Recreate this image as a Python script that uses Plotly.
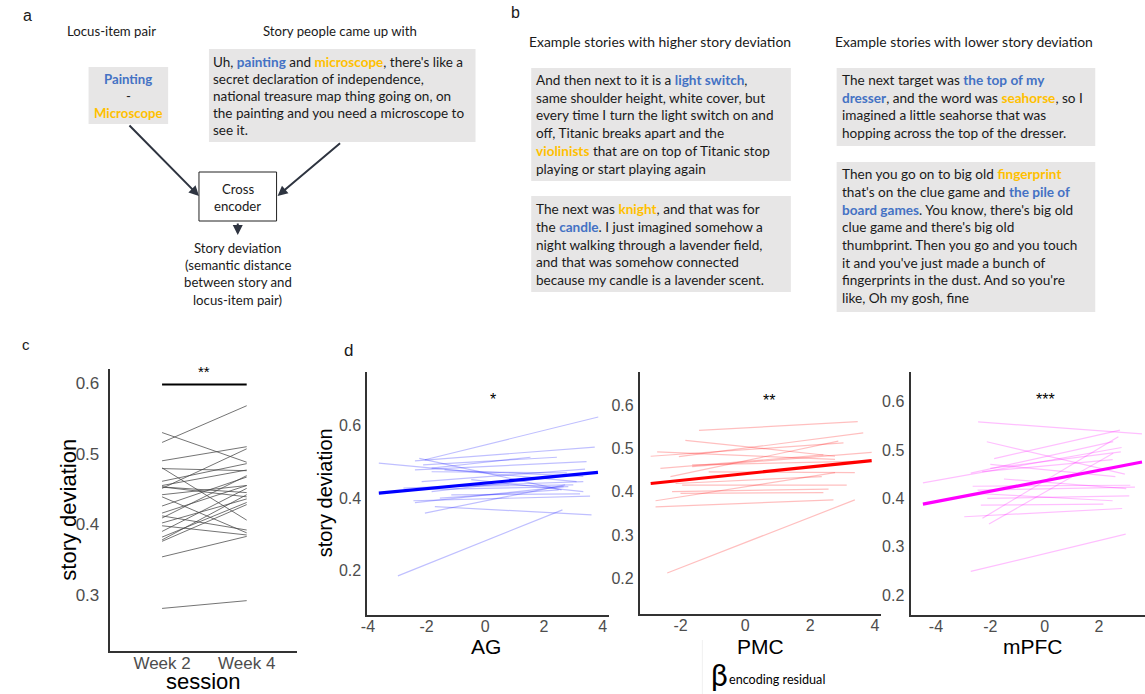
import plotly.graph_objects as go

W, H = 1145, 694


def px(x):
    return x / W


def py(y):
    return 1 - y / H


# ---------------- data ----------------
SESSIONS = ["Week 2", "Week 4"]
WEEK2 = [0.516, 0.530, 0.490, 0.480, 0.479, 0.451, 0.461, 0.455, 0.453, 0.439,
         0.426, 0.416, 0.412, 0.409, 0.402, 0.398, 0.390, 0.382, 0.378, 0.376,
         0.354, 0.281, 0.453, 0.442]
WEEK4 = [0.568, 0.488, 0.510, 0.406, 0.476, 0.507, 0.486, 0.477, 0.445, 0.388,
         0.467, 0.455, 0.392, 0.469, 0.436, 0.385, 0.451, 0.431, 0.442, 0.428,
         0.383, 0.292, 0.439, 0.455]

AG_X0 = [-2.98, -2.06, -2.40, -3.63, -2.25, -2.40, -1.83, -2.17, -2.12, -2.45, -2.40,
         -2.06, -1.72, -2.79, -1.83, -0.48, -1.27, -2.62, -1.55, -1.16, -1.83, -1.39]
AG_Y0 = [0.186, 0.506, 0.503, 0.497, 0.510, 0.478, 0.483, 0.446, 0.492, 0.393, 0.388,
         0.359, 0.377, 0.428, 0.418, 0.451, 0.432, 0.423, 0.400, 0.409, 0.473, 0.478]
AG_X1 = [2.63, 3.85, 3.73, 3.11, 2.60, 3.45, 1.54, 3.40, 2.44, 3.57, 2.67,
         2.72, 3.62, 3.34, 2.60, 3.34, 3.00, 2.83, 2.50, 3.23, 2.78, 3.34]
AG_Y1 = [0.368, 0.624, 0.541, 0.446, 0.423, 0.501, 0.513, 0.480, 0.513, 0.406, 0.432,
         0.437, 0.354, 0.446, 0.460, 0.418, 0.437, 0.432, 0.423, 0.412, 0.470, 0.460]
AG_FIT = ([-3.63, 3.84], [0.414, 0.471])

PMC_X0 = [-2.41, -1.43, -1.85, -2.72, -2.92, -2.05, -2.62, -1.64, -2.31, -2.15, -1.95,
          -2.26, -2.00, -2.77, -2.77, -1.13, -1.64]
PMC_Y0 = [0.212, 0.542, 0.519, 0.492, 0.482, 0.481, 0.454, 0.458, 0.435, 0.419, 0.415,
          0.400, 0.396, 0.379, 0.365, 0.446, 0.462]
PMC_X1 = [3.38, 3.47, 2.77, 2.77, 3.03, 3.64, 2.41, 3.90, 2.87, 2.36, 3.13,
          2.57, 2.41, 2.77, 2.72, 3.38, 3.38]
PMC_Y1 = [0.381, 0.562, 0.482, 0.475, 0.513, 0.536, 0.485, 0.491, 0.517, 0.435, 0.415,
          0.406, 0.398, 0.444, 0.381, 0.444, 0.470]
PMC_FIT = ([-2.92, 3.90], [0.419, 0.472])

MPFC_X0 = [-2.72, -2.45, -2.13, -4.48, -1.86, -2.72, -2.29, -2.05, -2.96, -2.35, -2.11,
           -2.47, -2.65, -2.00, -2.30, -1.50, -2.00, -2.50]
MPFC_Y0 = [0.249, 0.558, 0.517, 0.432, 0.482, 0.452, 0.359, 0.347, 0.362, 0.386, 0.400,
           0.417, 0.425, 0.462, 0.455, 0.440, 0.470, 0.410]
MPFC_X1 = [2.98, 3.58, 2.95, 2.83, 2.77, 2.52, 2.71, 2.52, 2.85, 2.16, 3.11,
           3.32, 3.15, 2.80, 2.50, 3.00, 2.60, 2.50]
MPFC_Y1 = [0.326, 0.533, 0.450, 0.505, 0.541, 0.517, 0.527, 0.493, 0.379, 0.388, 0.405,
           0.423, 0.427, 0.496, 0.480, 0.420, 0.445, 0.395]
MPFC_FIT = ([-4.48, 3.58], [0.388, 0.475])

REGIONS = ["AG", "PMC", "mPFC"]
STARS = ["*", "**", "***"]

# ---------------- text content ----------------
PAIR_LINES = [[("Painting", "blue")], [("-", None)], [("Microscope", "gold")]]
STORY_A = [
    [("Uh, ", None), ("painting", "blue"), (" and ", None), ("microscope", "gold"), (", there's like a", None)],
    [("secret declaration of independence,", None)],
    [("national treasure map thing going on, on", None)],
    [("the painting and you need a microscope to", None)],
    [("see it.", None)],
]
STORY_HIGH_1 = [
    [("And then next to it is a ", None), ("light switch", "blue"), (",", None)],
    [("same shoulder height, white cover, but", None)],
    [("every time I turn the light switch on and", None)],
    [("off, Titanic breaks apart and the", None)],
    [("violinists", "gold"), (" that are on top of Titanic stop", None)],
    [("playing or start playing again", None)],
]
STORY_HIGH_2 = [
    [("The next was ", None), ("knight", "gold"), (", and that was for", None)],
    [("the ", None), ("candle", "blue"), (". I just imagined somehow a", None)],
    [("night walking through a lavender field,", None)],
    [("and that was somehow connected", None)],
    [("because my candle is a lavender scent.", None)],
]
STORY_LOW_1 = [
    [("The next target was ", None), ("the top of my", "blue")],
    [("dresser", "blue"), (", and the word was ", None), ("seahorse", "gold"), (", so I", None)],
    [("imagined a little seahorse that was", None)],
    [("hopping across the top of the dresser.", None)],
]
STORY_LOW_2 = [
    [("Then you go on to big old ", None), ("fingerprint", "gold")],
    [("that's on the clue game and ", None), ("the pile of", "blue")],
    [("board games", "blue"), (". You know, there's big old", None)],
    [("clue game and there's big old", None)],
    [("thumbprint. Then you go and you touch", None)],
    [("it and you've just made a bunch of", None)],
    [("fingerprints in the dust. And so you're", None)],
    [("like, Oh my gosh, fine", None)],
]

COL = {"blue": "#4472C4", "gold": "#FFC000"}
TXT = "#1a1a1a"
TFONT = "Lato"
PLOTFONT = "Liberation Sans"
TICKCOL = "#4d4d4d"
BOXFILL = "#e7e6e6"


def rich(segs):
    out = ""
    for s, c in segs:
        if c is None:
            out += s
        else:
            out += "<b><span style='color:%s'>%s</span></b>" % (COL[c], s)
    return out


fig = go.Figure()
annotations = []
shapes = []


def label(x, y, text, size=13.2, anchor="left", color=TXT, family=TFONT, angle=0, vanchor="middle"):
    annotations.append(dict(x=px(x), y=py(y), xref="paper", yref="paper", text=text,
                            showarrow=False, xanchor=anchor, yanchor=vanchor, textangle=angle,
                            font=dict(family=family, size=size, color=color)))


def box(x0, y0, x1, y1, fill=BOXFILL, line=None):
    shapes.append(dict(type="rect", xref="paper", yref="paper", x0=px(x0), x1=px(x1),
                       y0=py(y1), y1=py(y0), fillcolor=fill, layer="below",
                       line=dict(width=0 if line is None else 1, color=line or fill)))


# ---------------- panel a ----------------
label(15, 15, "a", size=16, family="Liberation Sans")
label(106, 31, "Locus-item pair", size=13.2, anchor="center")
label(336, 31, "Story people came up with", size=13.2, anchor="center")
box(83, 67, 163, 124)
for i, ln in enumerate(PAIR_LINES):
    label(123, [79, 96, 113][i], rich(ln), size=13.2, anchor="center")
box(204, 49, 472, 142)
for i, ln in enumerate(STORY_A):
    label(206, 62 + i * 17.1, rich(ln), size=13.5)
box(194, 172, 272, 221, fill="white", line="#222222")
label(233, 189, "Cross", size=13.2, anchor="center")
label(233, 206, "encoder", size=13.2, anchor="center")
for i, t in enumerate(["Story deviation", "(semantic distance", "between story and", "locus-item pair)"]):
    label(233, 248 + i * 17.2, t, size=13.2, anchor="center")
for hx, hy, tx, ty in [(194, 196, 123, 124), (273, 196, 337, 142), (233, 235, 233, 222)]:
    annotations.append(dict(x=px(hx), y=py(hy), xref="paper", yref="paper", text="",
                            showarrow=True, ax=tx - hx, ay=ty - hy, arrowhead=2, arrowsize=1,
                            arrowwidth=2, arrowcolor="#2e3440"))

# ---------------- panel b ----------------
label(506, 13, "b", size=16, family="Liberation Sans")
label(657, 41, "Example stories with higher story deviation", size=13.9, anchor="center")
label(963, 41, "Example stories with lower story deviation", size=13.9, anchor="center")
for (x0, y0, x1, y1, first, lines) in [
    (528, 68, 789, 181, 80, STORY_HIGH_1),
    (528, 196, 789, 292, 209, STORY_HIGH_2),
    (835, 68, 1095, 146, 80, STORY_LOW_1),
    (835, 162, 1095, 312, 174, STORY_LOW_2),
]:
    box(x0, y0, x1, y1)
    for i, ln in enumerate(lines):
        label(x0 + 3, first + i * 17.75, rich(ln), size=13.6)

# ---------------- panel c ----------------
label(14, 345, "c", size=15, family="Liberation Sans")
xs, ys = [], []
for a, b in zip(WEEK2, WEEK4):
    xs += [0, 1, None]
    ys += [a, b, None]
fig.add_trace(go.Scatter(x=xs, y=ys, mode="lines", xaxis="x", yaxis="y", hoverinfo="skip",
                         line=dict(color="rgba(70,70,70,0.75)", width=1)))
shapes.append(dict(type="line", xref="x", yref="y", x0=0, x1=1, y0=0.598, y1=0.598,
                   line=dict(color="black", width=2)))
annotations.append(dict(x=0.5, y=0.616, xref="x", yref="y", text="**", showarrow=False,
                        font=dict(family=PLOTFONT, size=15, color="black")))
label(62, 510, "story deviation", size=22, anchor="center", color="black", family=PLOTFONT, angle=-90)
label(199, 681, "session", size=22, anchor="center", color="black", family=PLOTFONT)

# ---------------- panel d ----------------
label(338, 350, "d", size=17, family="Liberation Sans")
panel_data = [
    (AG_X0, AG_Y0, AG_X1, AG_Y1, AG_FIT, "rgba(0,0,255,0.25)", "#0000ff"),
    (PMC_X0, PMC_Y0, PMC_X1, PMC_Y1, PMC_FIT, "rgba(255,0,0,0.25)", "#ff0000"),
    (MPFC_X0, MPFC_Y0, MPFC_X1, MPFC_Y1, MPFC_FIT, "rgba(255,0,255,0.25)", "#ff00ff"),
]
for k, (X0, Y0, X1, Y1, FIT, thin, thick) in enumerate(panel_data):
    xa, ya = "x%d" % (k + 2), "y%d" % (k + 2)
    xs, ys = [], []
    for a, b, c, d in zip(X0, Y0, X1, Y1):
        xs += [a, c, None]
        ys += [b, d, None]
    fig.add_trace(go.Scatter(x=xs, y=ys, mode="lines", xaxis=xa, yaxis=ya, hoverinfo="skip",
                             line=dict(color=thin, width=1.2)))
    fig.add_trace(go.Scatter(x=FIT[0], y=FIT[1], mode="lines", xaxis=xa, yaxis=ya, hoverinfo="skip",
                             line=dict(color=thick, width=3.2)))

star_pos = [(0.27, 0.672), (0.72, 0.611), (0.03, 0.605)]
for k, (sx, sy) in enumerate(star_pos):
    annotations.append(dict(x=sx, y=sy, xref="x%d" % (k + 2), yref="y%d" % (k + 2), text=STARS[k],
                            showarrow=False, font=dict(family=PLOTFONT, size=16, color="black")))
for (cx, t) in zip([483, 758, 1032], REGIONS):
    label(cx, 646, t, size=21, anchor="center", color="black", family=PLOTFONT)
label(321, 493, "story deviation", size=20, anchor="center", color="black", family=PLOTFONT, angle=-90)
label(717, 674, "β", size=30, anchor="center", color="black", family=TFONT)
label(725, 679, "encoding residual", size=12.6, anchor="left", color="black")
shapes.append(dict(type="line", xref="paper", yref="paper", x0=px(700), x1=px(700), y0=0, y1=py(640),
                   line=dict(color="#f0f0f0", width=1)))

# ---------------- axes ----------------
def axis_common(size):
    return dict(showgrid=False, zeroline=False, showline=True, linecolor="#333333", linewidth=1.5,
                ticks="", tickfont=dict(family=PLOTFONT, size=size, color=TICKCOL), fixedrange=True)


layout_axes = {}
layout_axes["xaxis"] = dict(axis_common(17), domain=[px(105), px(293)], range=[-0.61, 1.6], anchor="y",
                            tickvals=[0, 1], ticktext=SESSIONS, ticklabelstandoff=-4)
layout_axes["yaxis"] = dict(axis_common(17), domain=[py(651), py(369)], range=[0.2207, 0.620], anchor="x",
                            tickvals=[0.3, 0.4, 0.5, 0.6], ticktext=["0.3", "0.4", "0.5", "0.6"],
                            ticklabelstandoff=6)

d_specs = [
    (363, 606, 615, 372, [-4.03, 4.21], [0.078, 0.748], [-4, -2, 0, 2, 4], [0.2, 0.4, 0.6], 1),
    (637, 880, 614, 372, [-3.26, 4.2], [0.117, 0.677], [-2, 0, 2, 4], [0.2, 0.3, 0.4, 0.5, 0.6], 1),
    (910, 1145, 615, 372, [-4.91, 3.69], [0.159, 0.661], [-4, -2, 0, 2], [0.2, 0.3, 0.4, 0.5, 0.6], 2),
]
for k, (x0, x1, yb, yt, xr, yr, xt, yt_vals, stand) in enumerate(d_specs):
    n = k + 2
    layout_axes["xaxis%d" % n] = dict(axis_common(16), domain=[px(x0), min(1, px(x1))], range=xr,
                                      anchor="y%d" % n, tickvals=xt, ticktext=[str(v) for v in xt],
                                      ticklabelstandoff=-4)
    layout_axes["yaxis%d" % n] = dict(axis_common(16), domain=[py(yb), py(yt)], range=yr,
                                      anchor="x%d" % n, tickvals=yt_vals,
                                      ticktext=["%.1f" % v for v in yt_vals], ticklabelstandoff=stand)

fig.update_layout(width=W, height=H, margin=dict(l=0, r=0, t=0, b=0), showlegend=False,
                  paper_bgcolor="white", plot_bgcolor="white", annotations=annotations, shapes=shapes,
                  **layout_axes)
fig.write_html("out.html")
